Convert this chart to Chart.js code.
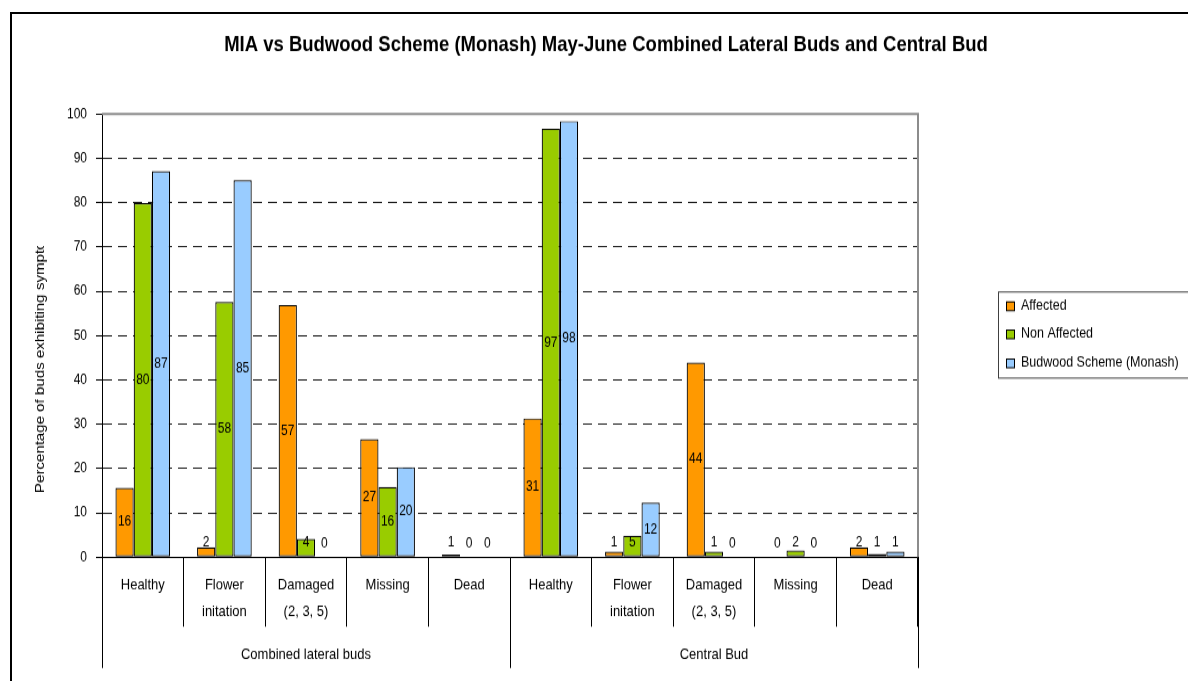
<!DOCTYPE html>
<html>
<head>
<meta charset="utf-8">
<title>MIA vs Budwood Scheme (Monash)</title>
<script src="https://cdn.jsdelivr.net/npm/chart.js@4.4.1/dist/chart.umd.min.js"></script>
<style>
  html, body { margin: 0; padding: 0; background: #fff; overflow: hidden; }
  #frame {
    position: absolute; left: 10px; top: 12px;
    width: 1300px; height: 800px;
    border: 2px solid #000;
  }
  #wrap {
    position: absolute; left: 0; top: 0;
    width: 1188px; height: 587px;
    transform: scaleY(1.1601);
    transform-origin: 0 0;
  }
</style>
</head>
<body>
<div id="frame"></div>
<div id="wrap"><canvas id="budChart" width="1188" height="587"></canvas></div>
<script>
// Bud assessment, percentages per category
const categories = [
  'Healthy', ['Flower', 'initation'], ['Damaged', '(2, 3, 5)'], 'Missing', 'Dead',
  'Healthy', ['Flower', 'initation'], ['Damaged', '(2, 3, 5)'], 'Missing', 'Dead'
];
const groups = ['Combined lateral buds', 'Central Bud'];
const seriesNames = ['Affected', 'Non Affected', 'Budwood Scheme (Monash)'];
const seriesColors = ['#FF9900', '#99CC00', '#99CCFF'];

const affected    = [15.6, 2.2, 56.9, 26.6, 0.6, 31.3, 1.2, 43.9, 0, 2.2];
const nonAffected = [79.9, 57.6, 4.1, 15.8, 0, 96.7, 4.8, 1.2, 1.5, 0.7];
const budwood     = [87.1, 85.1, 0, 20.3, 0, 98.4, 12.3, 0, 0, 1.2];

const yMin = 0, yMax = 100, yStep = 10;

const titleText = 'MIA vs Budwood Scheme (Monash) May-June Combined Lateral Buds and Central Bud';
const yTitleText = 'Percentage of buds exhibiting symptoms';

const FONT = "'Liberation Sans', Arial, sans-serif";

// title, axis title, legend, group labels and value labels
const decorations = {
  id: 'decorations',
  afterDatasetsDraw(chart) {
    const ctx = chart.ctx;

    // values on the bars
    ctx.save();
    ctx.font = '12px ' + FONT;
    ctx.fillStyle = '#000';
    ctx.textAlign = 'center';
    ctx.textBaseline = 'middle';
    chart.data.datasets.forEach((ds, i) => {
      chart.getDatasetMeta(i).data.forEach((bar, j) => {
        const mid = (bar.y + bar.base) / 2;
        const y = Math.min(mid, bar.base - 12);
        ctx.fillText(String(Math.round(ds.data[j])), bar.x, y);
      });
    });
    ctx.restore();
  },
  afterDraw(chart) {
    const ctx = chart.ctx;
    const area = chart.chartArea;
    ctx.save();

    // plot frame (top/right)
    ctx.strokeStyle = '#8c8c8c';
    ctx.lineWidth = 2;
    ctx.beginPath();
    ctx.moveTo(area.left, area.top);
    ctx.lineTo(area.right, area.top);
    ctx.lineTo(area.right, area.bottom);
    ctx.stroke();

    // long separators for the two groups
    ctx.strokeStyle = '#000';
    ctx.lineWidth = 1;
    const mid = (area.left + area.right) / 2;
    [area.left, mid, area.right].forEach(x => {
      const px = Math.round(x) + 0.5;
      ctx.beginPath();
      ctx.moveTo(px, area.bottom);
      ctx.lineTo(px, 575.8);
      ctx.stroke();
    });

    // group labels
    ctx.fillStyle = '#000';
    ctx.font = '13px ' + FONT;
    ctx.textAlign = 'center';
    ctx.textBaseline = 'middle';
    ctx.fillText(groups[0], (area.left + mid) / 2, 564.7);
    ctx.fillText(groups[1], (mid + area.right) / 2, 564.7);

    // chart title
    ctx.font = 'bold 18.5px ' + FONT;
    ctx.fillText(titleText, 606, 38.8);

    // y axis title, cut off at the top
    ctx.save();
    ctx.translate(40, 425);
    ctx.rotate(-Math.PI / 2);
    ctx.beginPath();
    ctx.rect(-2, -20, 215, 40);
    ctx.clip();
    ctx.font = '13px ' + FONT;
    ctx.textAlign = 'left';
    ctx.fillText(yTitleText, 0, 0);
    ctx.restore();

    // legend
    ctx.strokeStyle = '#404040';
    ctx.lineWidth = 1;
    ctx.strokeRect(998.5, 251.7, 210, 74.2);
    ctx.font = '12.5px ' + FONT;
    ctx.textAlign = 'left';
    const rows = [263.8, 288, 313];
    chart.data.datasets.forEach((ds, i) => {
      const y = rows[i];
      ctx.fillStyle = ds.backgroundColor;
      ctx.fillRect(1006, y - 4, 8, 8);
      ctx.strokeStyle = '#000';
      ctx.strokeRect(1006.5, y - 3.5, 8, 7.5);
      ctx.fillStyle = '#000';
      ctx.fillText(ds.label, 1021, y);
    });

    ctx.restore();
  }
};

const seriesValues = [affected, nonAffected, budwood];

new Chart(document.getElementById('budChart'), {
  type: 'bar',
  data: {
    labels: categories,
    datasets: seriesNames.map((name, i) => ({
      label: name,
      data: seriesValues[i],
      backgroundColor: seriesColors[i],
      borderColor: '#000',
      borderWidth: 1.2,
      borderSkipped: false,
      barPercentage: 1.0,
      categoryPercentage: 0.67
    }))
  },
  options: {
    responsive: false,
    animation: false,
    devicePixelRatio: 1,
    layout: { padding: { top: 98.3, left: 24, right: 270, bottom: 0 } },
    plugins: {
      legend: { display: false },
      title: { display: false },
      tooltip: { enabled: false }
    },
    scales: {
      x: {
        afterFit: scale => { scale.height = 106.8; },
        border: { display: true, color: '#000', width: 1 },
        grid: {
          display: true,
          drawOnChartArea: false,
          drawTicks: true,
          tickLength: 60,
          color: '#000',
          tickColor: '#000',
          offset: true
        },
        ticks: {
          autoSkip: false,
          maxRotation: 0,
          minRotation: 0,
          padding: -47.3,
          color: '#000',
          font: { family: FONT, size: 13, lineHeight: 1.75 }
        }
      },
      y: {
        min: yMin,
        max: yMax,
        afterFit: scale => { scale.width = 78; },
        border: { display: true, color: '#000', width: 1, dash: [9, 6] },
        grid: {
          color: c => (c.tick && (c.tick.value === yMax || c.tick.value === yMin)) ? 'rgba(0,0,0,0)' : '#1a1a1a',
          tickColor: '#000',
          tickBorderDash: [],
          tickLength: 6,
          drawTicks: true
        },
        ticks: {
          stepSize: yStep,
          padding: 9,
          color: '#000',
          font: { family: FONT, size: 12 }
        }
      }
    }
  },
  plugins: [decorations]
});
</script>
</body>
</html>
